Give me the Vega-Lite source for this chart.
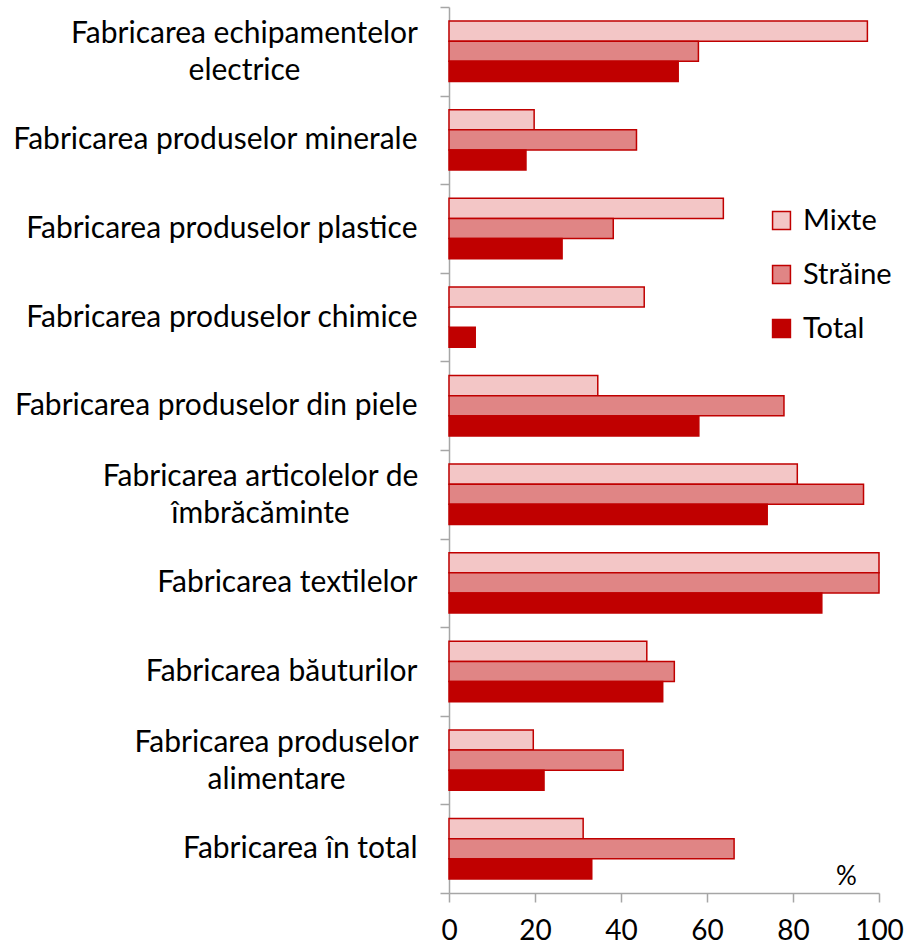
{
  "$schema": "https://vega.github.io/schema/vega-lite/v6.json",
  "width": 430,
  "height": 886,
  "autosize": "none",
  "padding": {"left": 449, "top": 7, "right": 27, "bottom": 54},
  "config": {"view": {"stroke": null}, "font": "Lato", "background": "white"},
  "data": {
    "values": [
      {"category": "Fabricarea echipamentelor electrice", "series": "Mixte", "value": 97.3},
      {"category": "Fabricarea echipamentelor electrice", "series": "Străine", "value": 58.0},
      {"category": "Fabricarea echipamentelor electrice", "series": "Total", "value": 53.3},
      {"category": "Fabricarea produselor minerale", "series": "Mixte", "value": 19.8},
      {"category": "Fabricarea produselor minerale", "series": "Străine", "value": 43.6},
      {"category": "Fabricarea produselor minerale", "series": "Total", "value": 17.9},
      {"category": "Fabricarea produselor plastice", "series": "Mixte", "value": 63.8},
      {"category": "Fabricarea produselor plastice", "series": "Străine", "value": 38.2},
      {"category": "Fabricarea produselor plastice", "series": "Total", "value": 26.3},
      {"category": "Fabricarea produselor chimice", "series": "Mixte", "value": 45.4},
      {"category": "Fabricarea produselor chimice", "series": "Străine", "value": 0},
      {"category": "Fabricarea produselor chimice", "series": "Total", "value": 6.1},
      {"category": "Fabricarea produselor din piele", "series": "Mixte", "value": 34.6},
      {"category": "Fabricarea produselor din piele", "series": "Străine", "value": 77.9},
      {"category": "Fabricarea produselor din piele", "series": "Total", "value": 58.1},
      {"category": "Fabricarea articolelor de îmbrăcăminte", "series": "Mixte", "value": 81.0},
      {"category": "Fabricarea articolelor de îmbrăcăminte", "series": "Străine", "value": 96.4},
      {"category": "Fabricarea articolelor de îmbrăcăminte", "series": "Total", "value": 74.0},
      {"category": "Fabricarea textilelor", "series": "Mixte", "value": 100},
      {"category": "Fabricarea textilelor", "series": "Străine", "value": 100},
      {"category": "Fabricarea textilelor", "series": "Total", "value": 86.7},
      {"category": "Fabricarea băuturilor", "series": "Mixte", "value": 46.0},
      {"category": "Fabricarea băuturilor", "series": "Străine", "value": 52.4},
      {"category": "Fabricarea băuturilor", "series": "Total", "value": 49.7},
      {"category": "Fabricarea produselor alimentare", "series": "Mixte", "value": 19.6},
      {"category": "Fabricarea produselor alimentare", "series": "Străine", "value": 40.5},
      {"category": "Fabricarea produselor alimentare", "series": "Total", "value": 22.1},
      {"category": "Fabricarea în total", "series": "Mixte", "value": 31.2},
      {"category": "Fabricarea în total", "series": "Străine", "value": 66.3},
      {"category": "Fabricarea în total", "series": "Total", "value": 33.2}
    ]
  },
  "mark": {"type": "bar", "strokeWidth": 1.5, "stroke": "#c00000"},
  "encoding": {
    "y": {
      "field": "category",
      "type": "nominal",
      "sort": [
        "Fabricarea echipamentelor electrice",
        "Fabricarea produselor minerale",
        "Fabricarea produselor plastice",
        "Fabricarea produselor chimice",
        "Fabricarea produselor din piele",
        "Fabricarea articolelor de îmbrăcăminte",
        "Fabricarea textilelor",
        "Fabricarea băuturilor",
        "Fabricarea produselor alimentare",
        "Fabricarea în total"
      ],
      "scale": {"paddingInner": 0, "paddingOuter": 0},
      "axis": {
        "title": null,
        "domainColor": "#a6a6a6",
        "domainWidth": 1.5,
        "tickColor": "#a6a6a6",
        "tickWidth": 1.5,
        "tickBand": "extent",
        "tickSize": 9,
        "labelFontSize": 30,
        "labelColor": "#000000",
        "labelLimit": 0,
        "labelLineHeight": 37,
        "labelAlign": {
          "condition": {"test": "indexof(['Fabricarea echipamentelor electrice', 'Fabricarea articolelor de îmbrăcăminte', 'Fabricarea produselor alimentare'], datum.value) >= 0", "value": "center"},
          "value": "right"
        },
        "labelPadding": {
          "condition": [
            {"test": "datum.value == 'Fabricarea echipamentelor electrice'", "value": 196},
            {"test": "datum.value == 'Fabricarea articolelor de îmbrăcăminte'", "value": 180},
            {"test": "datum.value == 'Fabricarea produselor alimentare'", "value": 164}
          ],
          "value": 23
        },
        "labelOffset": {
          "condition": {"test": "indexof(['Fabricarea echipamentelor electrice', 'Fabricarea articolelor de îmbrăcăminte', 'Fabricarea produselor alimentare'], datum.value) >= 0", "value": -18},
          "value": 0
        },
        "labelExpr": "datum.value == 'Fabricarea echipamentelor electrice' ? ['Fabricarea echipamentelor', 'electrice'] : datum.value == 'Fabricarea articolelor de îmbrăcăminte' ? ['Fabricarea articolelor de', 'îmbrăcăminte'] : datum.value == 'Fabricarea produselor alimentare' ? ['Fabricarea produselor', 'alimentare'] : datum.value"
      }
    },
    "yOffset": {
      "field": "series",
      "sort": ["Mixte", "Străine", "Total"],
      "scale": {"paddingInner": 0, "paddingOuter": 0.7}
    },
    "x": {
      "field": "value",
      "type": "quantitative",
      "scale": {"domain": [0, 100], "nice": false},
      "axis": {
        "values": [0, 20, 40, 60, 80, 100],
        "grid": false,
        "domainColor": "#a6a6a6",
        "domainWidth": 1.5,
        "tickColor": "#a6a6a6",
        "tickWidth": 1.5,
        "tickSize": 9,
        "labelFontSize": 28,
        "labelColor": "#000000",
        "labelPadding": 15,
        "labelFlush": false,
        "title": "%",
        "titleFontSize": 26,
        "titleFontWeight": "normal",
        "titleColor": "#000000",
        "titleX": 397,
        "titleY": -17,
        "titleBaseline": "middle",
        "titleAlign": "center"
      }
    },
    "fill": {
      "field": "series",
      "type": "nominal",
      "scale": {"domain": ["Mixte", "Străine", "Total"], "range": ["#f3c6c6", "#e08585", "#c00000"]},
      "legend": {
        "title": null,
        "orient": "none",
        "legendX": 318,
        "legendY": 199,
        "padding": 0,
        "symbolType": "square",
        "symbolSize": 320,
        "symbolStrokeColor": "#c00000",
        "symbolStrokeWidth": 1.5,
        "labelFontSize": 29,
        "labelColor": "#000000",
        "labelOffset": 7,
        "rowPadding": 24
      }
    }
  }
}
